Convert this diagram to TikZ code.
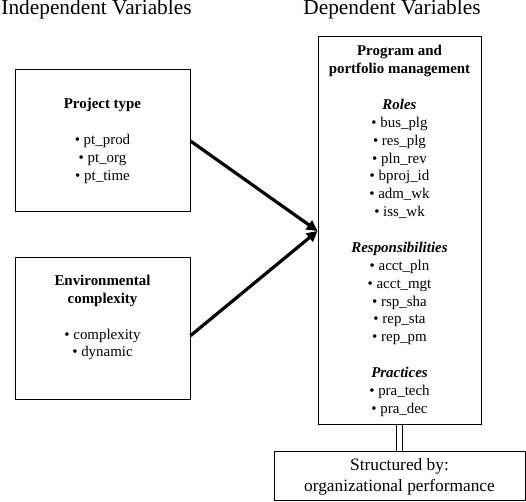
\documentclass[tikz,border=0pt]{standalone}
\usepackage{fontspec}
\setmainfont{Liberation Serif}
\usetikzlibrary{arrows.meta, positioning}
\tikzset{
  box/.style={rectangle,draw,line width=0.75pt,align=center,inner sep=0pt,font=\fontsize{11.2}{13.4}\selectfont},
  heading/.style={anchor=base,font=\fontsize{16}{19}\selectfont},
  line/.style={-{Triangle[length=8pt,width=8pt]},line width=2.4pt},
  link/.style={double,double distance=3.5pt,line width=0.75pt}
}

\begin{document}
\begin{tikzpicture}[x=0.75pt,y=-0.75pt]
\useasboundingbox (0,0) rectangle (526,502);
\node[heading] (indep) at (96.5,15) {Independent Variables};
\node[heading] (dep) at (392,15) {Dependent Variables};
\node[box, minimum width=131.25pt, minimum height=106.5pt] (ptype) at (102.5,141)
  {\textbf{Project type}\\[13.4pt]• pt\_prod\\• pt\_org\\• pt\_time};
\node[box, minimum width=131.25pt, minimum height=106.5pt, below=33.75pt of ptype] (envc)
  {\textbf{Environmental}\\\textbf{complexity}\\[13.4pt]• complexity\\• dynamic\\[6pt]\mbox{}};
\node[box, minimum width=122.25pt, minimum height=291pt] (ppm) at (399.5,231)
  {\textbf{Program and}\\\textbf{portfolio management}\\[13.4pt]
   \textbf{\textit{Roles}}\\• bus\_plg\\• res\_plg\\• pln\_rev\\• bproj\_id\\• adm\_wk\\• iss\_wk\\[13.4pt]
   \textbf{\textit{Responsibilities}}\\• acct\_pln\\• acct\_mgt\\• rsp\_sha\\• rep\_sta\\• rep\_pm\\[13.4pt]
   \textbf{\textit{Practices}}\\• pra\_tech\\• pra\_dec};
\node[box, font=\fontsize{13}{15.75}\selectfont, minimum width=188.25pt, minimum height=36.75pt,
  below=19.5pt of ppm] (struct) {Structured by:\\organizational performance};
\draw[line] (ptype.east) -- (ppm.west);
\draw[line] ([yshift=-5pt]envc.east) -- (ppm.west);
\draw[link] (ppm) -- (struct);
\end{tikzpicture}
\end{document}
